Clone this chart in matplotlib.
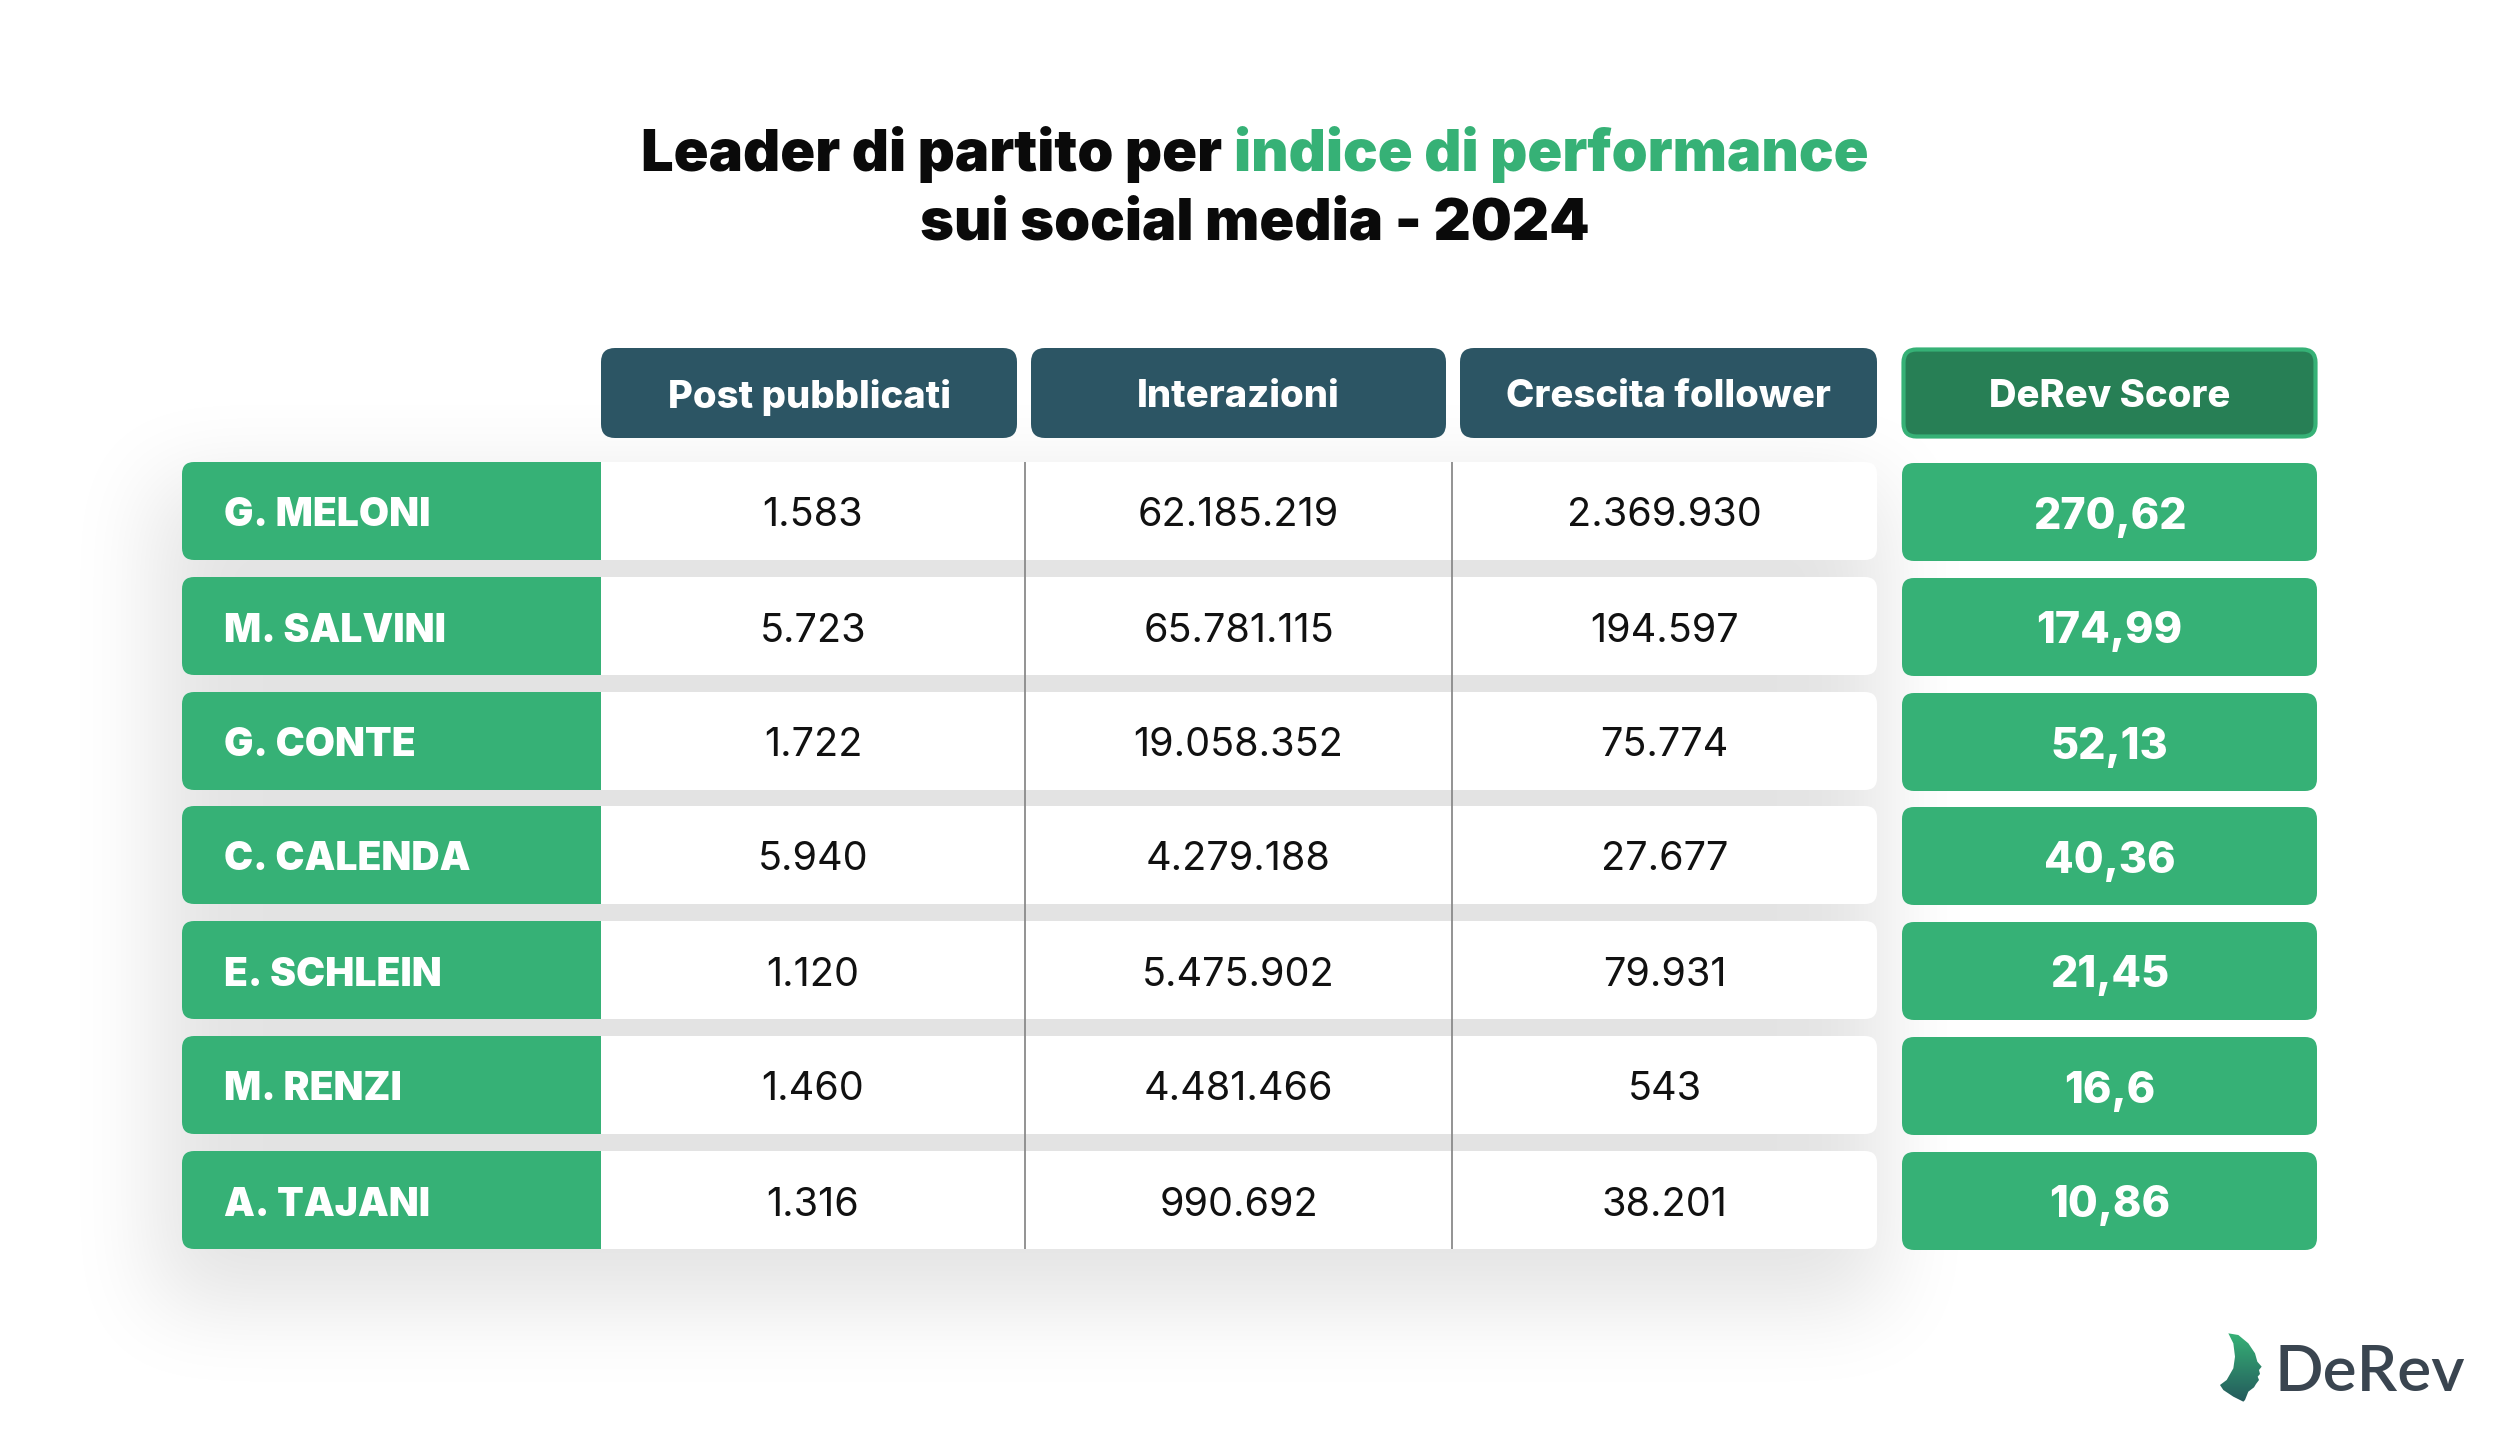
import numpy as np
import matplotlib
matplotlib.use("Agg")
import matplotlib.pyplot as plt
from matplotlib.patches import FancyBboxPatch, Rectangle, Polygon

plt.rcParams['font.family'] = ['Inter', 'DejaVu Sans']

# data
leaders = ["G. MELONI", "M. SALVINI", "G. CONTE", "C. CALENDA", "E. SCHLEIN", "M. RENZI", "A. TAJANI"]
columns = ["Post pubblicati", "Interazioni", "Crescita follower"]
score_label = "DeRev Score"
post = [1583, 5723, 1722, 5940, 1120, 1460, 1316]
interazioni = [62185219, 65781115, 19058352, 4279188, 5475902, 4481466, 990692]
follower = [2369930, 194597, 75774, 27677, 79931, 543, 38201]
score = [270.62, 174.99, 52.13, 40.36, 21.45, 16.6, 10.86]

GREEN = '#36b176'
DARK_GREEN = '#277f55'
TEAL = '#2c5564'
W, H = 2500, 1430


def it_int(v):
    return f"{v:,}".replace(",", ".")


def it_dec(v):
    return repr(v).replace(".", ",")


fig = plt.figure(figsize=(25, 14.3), dpi=100)
ax = fig.add_axes([0, 0, 1, 1])
ax.set_xlim(0, W)
ax.set_ylim(H, 0)
ax.axis('off')

# layout (pixels)
name_x0, name_x1 = 182, 601
data_x1 = 1877
sep_x = [1025, 1452]
col_edges = [(601, 1025), (1025, 1452), (1452, 1877)]
hdr_edges = [(601, 1017), (1031, 1446), (1460, 1877)]
score_x0, score_x1 = 1902, 2317
hdr_y0, hdr_y1 = 348, 438
row_y0, row_h, pitch = 462, 98, 114.8
n = len(leaders)
tab_y1 = round(row_y0 + pitch * (n - 1)) + row_h

# soft shadow behind the table
s = 4
mask = np.zeros((H // s, W // s))
mask[int((row_y0 + 20) / s):int((tab_y1 + 55) / s), int((name_x0 - 25) / s):int((data_x1 + 10) / s)] = 1.0
for axis in (0, 1):
    for _ in range(3):
        k = np.ones(21) / 21
        mask = np.apply_along_axis(lambda m: np.convolve(m, k, mode='same'), axis, mask)
rgba = np.zeros(mask.shape + (4,))
rgba[..., 3] = mask * 0.11
ax.imshow(rgba, extent=(0, W, H, 0), interpolation='bilinear', zorder=0)

# title
def line_parts(parts, y, size):
    r = fig.canvas.get_renderer()
    objs = []
    for txt, col in parts:
        t = ax.text(0, y, txt, color=col, fontsize=size, fontweight='black', va='baseline', ha='left')
        objs.append(t)
    widths = [o.get_window_extent(r).width for o in objs]
    x = W / 2 + 5 - sum(widths) / 2
    for o, w in zip(objs, widths):
        o.set_x(x)
        x += w

line_parts([("Leader di partito per ", '#0a0a0a'), ("indice di performance", GREEN)], 171, 41.5)
line_parts([("sui social media - 2024", '#0a0a0a')], 239, 41.5)

# headers
for (x0, x1), lab in zip(hdr_edges, columns):
    ax.add_patch(FancyBboxPatch((x0, hdr_y0), x1 - x0, hdr_y1 - hdr_y0,
                                boxstyle="round,pad=0,rounding_size=14", fc=TEAL, ec='none', zorder=2))
    ax.text((x0 + x1) / 2, (hdr_y0 + hdr_y1) / 2 + 4, lab, color='white', fontsize=27.5,
            fontweight='heavy', ha='center', va='center', zorder=3)
ax.add_patch(FancyBboxPatch((score_x0 + 1.5, hdr_y0 + 1.5), score_x1 - score_x0 - 3, hdr_y1 - hdr_y0 - 3,
                            boxstyle="round,pad=0,rounding_size=13", fc=DARK_GREEN, ec=GREEN, lw=3, zorder=2))
ax.text((score_x0 + score_x1) / 2, (hdr_y0 + hdr_y1) / 2 + 4, score_label, color='white', fontsize=27.5,
        fontweight='heavy', ha='center', va='center', zorder=3)

# rows
values = [post, interazioni, follower]
for i, name in enumerate(leaders):
    y0 = round(row_y0 + i * pitch)
    yc = y0 + row_h / 2
    ax.add_patch(FancyBboxPatch((name_x0, y0), data_x1 - name_x0, row_h,
                                boxstyle="round,pad=0,rounding_size=12", fc='white', ec='none', zorder=2))
    ax.add_patch(FancyBboxPatch((name_x0, y0), name_x1 + 30 - name_x0, row_h,
                                boxstyle="round,pad=0,rounding_size=12", fc=GREEN, ec='none', zorder=3))
    ax.add_patch(Rectangle((name_x1, y0), 40, row_h, fc='white', ec='none', lw=0, snap=False, zorder=3))
    ax.text(name_x0 + 42, yc + 5, name, color='white', fontsize=28, fontweight='black',
            ha='left', va='center', zorder=4)
    for (x0, x1), col in zip(col_edges, values):
        ax.text((x0 + x1) / 2, yc + 5, it_int(col[i]), color='#111111', fontsize=28.5,
                ha='center', va='center', zorder=4)
    ax.add_patch(FancyBboxPatch((score_x0, y0 + 1), score_x1 - score_x0, row_h,
                                boxstyle="round,pad=0,rounding_size=12", fc=GREEN, ec='none', zorder=2))
    ax.text((score_x0 + score_x1) / 2, yc + 6, it_dec(score[i]), color='white', fontsize=31,
            fontweight='heavy', ha='center', va='center', zorder=4)

for x in sep_x:
    ax.plot([x, x], [row_y0, tab_y1], color='#8a8a8a', lw=1.3, zorder=5, solid_capstyle='butt')

# logo
face = np.array([(145, 100), (175, 105), (205, 130), (225, 160), (232, 185), (245, 200), (237, 210),
                 (240, 222), (233, 230), (237, 240), (228, 252), (222, 262), (205, 275), (195, 300),
                 (190, 305), (160, 290), (130, 270), (120, 255), (140, 240), (160, 205), (165, 170),
                 (160, 130), (150, 110)], dtype=float)
face = np.column_stack([2180 + face[:, 0] / 3, 1300 + face[:, 1] / 3])
poly = Polygon(face, closed=True, fc='none', ec='none', zorder=6)
ax.add_patch(poly)
gy = np.linspace(0, 1, 64)[:, None] * np.ones((1, 32))
c0 = np.array(matplotlib.colors.to_rgb(GREEN))
c1 = np.array(matplotlib.colors.to_rgb('#245a5c'))
grad = c0 * (1 - gy[..., None]) + c1 * gy[..., None]
im = ax.imshow(grad, extent=(face[:, 0].min(), face[:, 0].max(), face[:, 1].max(), face[:, 1].min()),
               zorder=6, interpolation='bilinear')
im.set_clip_path(poly)
ax.text(2275, 1391, "DeRev", color='#3a4550', fontsize=46, fontweight='semibold',
        family=['Lato', 'DejaVu Sans'], ha='left', va='baseline', zorder=6)

ax.set_xlim(0, W)
ax.set_ylim(H, 0)
fig.savefig('out.png', dpi=100, facecolor='white')
